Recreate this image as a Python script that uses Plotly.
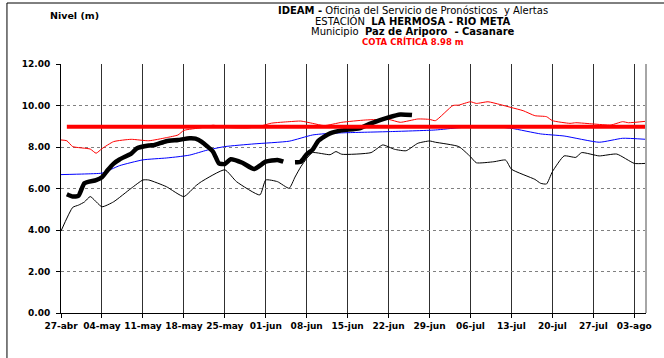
import pandas as pd
import plotly.graph_objects as go

ANIO = "2021"
COTA_CRITICA = 8.98

# Etiquetas del eje de fechas (semanales)
semanas = ["04-27", "05-04", "05-11", "05-18", "05-25", "06-01", "06-08",
           "06-15", "06-22", "06-29", "07-06", "07-13", "07-20", "07-27", "08-03"]
semanas_txt = ["27-abr", "04-may", "11-may", "18-may", "25-may", "01-jun", "08-jun",
               "15-jun", "22-jun", "29-jun", "06-jul", "13-jul", "20-jul", "27-jul", "03-ago"]

# Nivel mínimo histórico
min_fechas = ["04-27", "04-29", "04-30", "05-01", "05-02", "05-04", "05-06", "05-09",
              "05-11", "05-12", "05-15", "05-18", "05-20", "05-21", "05-25", "05-27",
              "05-31", "06-01", "06-03", "06-05", "06-06", "06-07", "06-08", "06-09",
              "06-12", "06-13", "06-14", "06-19", "06-21", "06-23", "06-25", "06-27",
              "06-29", "06-30", "07-04", "07-06", "07-07", "07-10", "07-12", "07-13",
              "07-17", "07-18", "07-19", "07-20", "07-22", "07-24", "07-25", "07-28",
              "07-31", "08-03", "08-05"]
min_nivel = [3.95, 5.09, 5.20, 5.35, 5.61, 5.12, 5.36, 6.01,
             6.41, 6.41, 6.09, 5.61, 6.12, 6.33, 6.90, 6.33,
             5.69, 6.41, 6.33, 6.01, 6.55, 7.05, 7.45, 7.73,
             7.63, 7.78, 7.65, 7.73, 8.10, 7.89, 7.82, 8.18,
             8.29, 8.23, 8.02, 7.53, 7.24, 7.29, 7.37, 6.93,
             6.44, 6.25, 6.22, 6.81, 7.57, 7.50, 7.73, 7.57,
             7.66, 7.21, 7.21]

# Nivel medio histórico
med_fechas = ["04-27", "05-01", "05-04", "05-05", "05-07", "05-11", "05-15", "05-17",
              "05-19", "05-22", "05-25", "05-30", "06-05", "06-09", "06-12", "06-15",
              "06-22", "06-30", "07-04", "07-09", "07-13", "07-18", "07-22", "07-28",
              "08-01", "08-05"]
med_nivel = [6.67, 6.70, 6.74, 6.85, 7.10, 7.38, 7.47, 7.53,
             7.61, 7.85, 8.02, 8.15, 8.28, 8.58, 8.66, 8.69,
             8.74, 8.82, 8.93, 9.00, 8.90, 8.63, 8.53, 8.23,
             8.42, 8.37]

# Nivel máximo histórico
max_fechas = ["04-27", "04-28", "04-29", "05-02", "05-03", "05-04", "05-06", "05-09",
              "05-12", "05-15", "05-17", "05-18", "05-21", "05-23", "05-25", "05-27",
              "05-29", "05-31", "06-02", "06-05", "06-07", "06-09", "06-11", "06-14",
              "06-18", "06-22", "06-24", "06-27", "06-29", "06-30", "07-03", "07-04",
              "07-06", "07-07", "07-09", "07-11", "07-13", "07-15", "07-17", "07-19",
              "07-20", "07-23", "07-24", "07-27", "07-30", "08-01", "08-02", "08-05"]
max_nivel = [8.34, 8.30, 8.02, 7.90, 7.70, 7.92, 8.26, 8.37,
             8.30, 8.45, 8.58, 8.80, 8.93, 9.05, 8.95, 8.92,
             8.92, 9.00, 9.15, 9.22, 9.25, 9.14, 9.03, 9.19,
             9.30, 9.33, 9.19, 9.35, 9.33, 9.27, 10.00, 10.02,
             10.18, 10.10, 10.18, 10.05, 9.90, 9.75, 9.51, 9.46,
             9.27, 9.14, 9.17, 9.11, 9.06, 9.22, 9.17, 9.24]

# Nivel observado del año en curso (sin dato el 05-jun)
obs_fechas = ["04-28", "04-29", "04-30", "05-01", "05-03", "05-04", "05-05", "05-06",
              "05-07", "05-09", "05-10", "05-12", "05-13", "05-15", "05-17", "05-19",
              "05-20", "05-21", "05-23", "05-24", "05-25", "05-26", "05-28", "05-30",
              "06-01", "06-03", "06-04", "06-05", "06-06", "06-07", "06-08", "06-09",
              "06-10", "06-11", "06-12", "06-14", "06-17", "06-19", "06-22", "06-24",
              "06-26"]
obs_nivel = [5.72, 5.61, 5.65, 6.25, 6.40, 6.54, 6.89, 7.20,
             7.40, 7.68, 7.94, 8.07, 8.10, 8.28, 8.34, 8.42,
             8.40, 8.26, 7.77, 7.21, 7.18, 7.41, 7.24, 6.94,
             7.29, 7.37, 7.29, None, 7.26, 7.29, 7.65, 7.87,
             8.30, 8.50, 8.66, 8.80, 8.90, 9.14, 9.43, 9.57,
             9.54]

# Tramo de la cota crítica
cota_fechas = ["04-28", "08-05"]
cota_nivel = [COTA_CRITICA, COTA_CRITICA]


def fechas(lista):
    return pd.to_datetime([f"{ANIO}-{d}" for d in lista])


FONT = "DejaVu Sans"
W, H = 664, 358
L, R, T, B = 61, 13, 64, 45


def px_x(x):
    return (x - L) / (W - L - R)


def px_y(y):
    return (H - B - y) / (H - T - B)


SUAVE = dict(shape="spline", smoothing=0.5)

fig = go.Figure()
fig.add_trace(go.Scatter(x=fechas(min_fechas), y=min_nivel, mode="lines",
                         line=dict(color="#000000", width=1, **SUAVE), name="Mínimo"))
fig.add_trace(go.Scatter(x=fechas(med_fechas), y=med_nivel, mode="lines",
                         line=dict(color="#0000ff", width=1, **SUAVE), name="Medio"))
fig.add_trace(go.Scatter(x=fechas(max_fechas), y=max_nivel, mode="lines",
                         line=dict(color="#ff0000", width=1, **SUAVE), name="Máximo"))
fig.add_trace(go.Scatter(x=fechas(obs_fechas), y=obs_nivel, mode="lines",
                         connectgaps=False,
                         line=dict(color="#000000", width=4.5, **SUAVE), name="Observado"))
fig.add_trace(go.Scatter(x=fechas(cota_fechas), y=cota_nivel, mode="lines",
                         line=dict(color="#ff0000", width=4), name="Cota crítica"))

fig.update_xaxes(
    range=[pd.Timestamp(f"{ANIO}-04-27"), pd.Timestamp(f"{ANIO}-08-05")],
    tickvals=fechas(semanas), ticktext=semanas_txt,
    showgrid=True, gridcolor="#303030", gridwidth=1,
    showline=True, linecolor="#000000", linewidth=1,
    ticks="outside", ticklen=4, tickcolor="#000000",
    tickfont=dict(family=FONT, size=9, color="#000000", weight="bold"),
    zeroline=False,
)
yt = [0, 2, 4, 6, 8, 10, 12]
fig.update_yaxes(
    range=[0, 12], tickvals=yt, ticktext=[f"{v:.2f}" for v in yt],
    showgrid=True, gridcolor="#808080", gridwidth=1, griddash="dot",
    showline=True, linecolor="#000000", linewidth=1,
    ticks="outside", ticklen=4, tickcolor="#000000", ticklabelstandoff=4,
    tickfont=dict(family=FONT, size=9, color="#000000", weight="bold"),
    zeroline=False,
)

titulo = [
    ("<b>IDEAM -</b> Oficina del Servicio de Pronósticos  y Alertas", 10.5, 10, "#000000"),
    ("ESTACIÓN  <b>LA HERMOSA - RIO META</b>", 21, 10, "#000000"),
    ("Municipio  <b>Paz de Ariporo  - Casanare</b>", 31.5, 10, "#000000"),
    (f"<b>COTA CRÍTICA {COTA_CRITICA:.2f} m</b>", 41.5, 8.5, "#ff0000"),
]
anns = []
for txt, y, size, color in titulo:
    anns.append(dict(text=txt, x=px_x(416), y=px_y(y), xref="paper", yref="paper",
                     xanchor="center", yanchor="middle", showarrow=False,
                     font=dict(family=FONT, size=size, color=color)))
anns.append(dict(text="<b>Nivel (m)</b>", x=px_x(75), y=px_y(15), xref="paper",
                 yref="paper", xanchor="center", yanchor="middle", showarrow=False,
                 font=dict(family=FONT, size=9.5, color="#000000")))

shapes = [
    # borde derecho del área de trazado
    dict(type="line", xref="paper", yref="paper", x0=1, x1=1, y0=0, y1=1,
         line=dict(color="#a6a6a6", width=2)),
    # marco exterior del gráfico
    dict(type="line", xref="paper", yref="paper", x0=px_x(6.5), x1=px_x(6.5),
         y0=px_y(3), y1=px_y(370), line=dict(color="#000000", width=1)),
    dict(type="line", xref="paper", yref="paper", x0=px_x(6.5), x1=px_x(680),
         y0=px_y(3), y1=px_y(3), line=dict(color="#000000", width=1)),
]

fig.update_layout(
    width=W, height=H,
    margin=dict(l=L, r=R, t=T, b=B),
    paper_bgcolor="#ffffff", plot_bgcolor="#ffffff",
    showlegend=False, hovermode=False,
    annotations=anns, shapes=shapes,
    font=dict(family=FONT, color="#000000"),
)

fig.write_html("out.html")
